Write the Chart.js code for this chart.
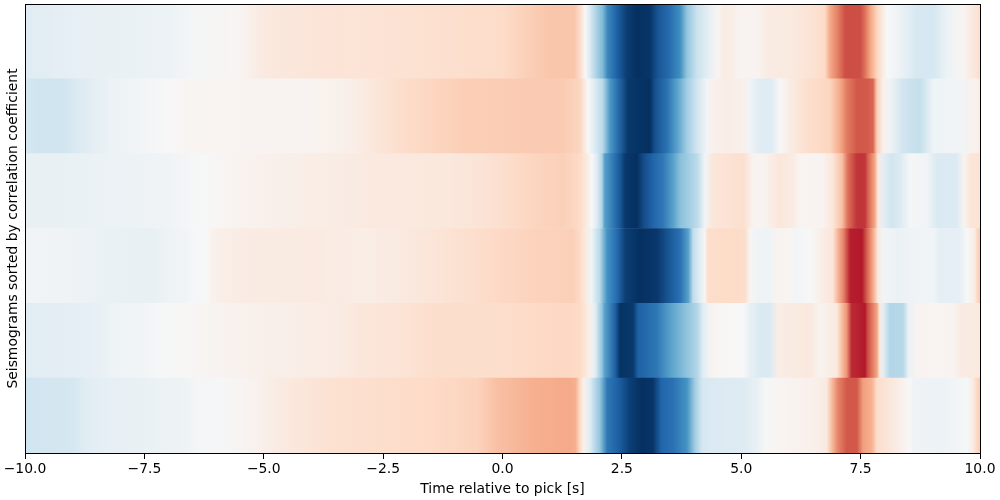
<!DOCTYPE html>
<html>
<head>
<meta charset="utf-8">
<style>html,body{margin:0;padding:0;background:#fff}canvas{display:block}</style>
<script src="https://cdn.jsdelivr.net/npm/chart.js@4"></script>
</head>
<body>
<canvas id="c" width="1000" height="500"></canvas>
<script>
const rowLabels = ["1","2","3","4","5","6"];
const xTicks = [-10,-7.5,-5,-2.5,0,2.5,5,7.5,10];
const xSpan = [-10,10];
const yTitle = "Seismograms sorted by correlation coefficient";
const xTitle = "Time relative to pick [s]";
// RdBu_r anchor colours from -1 to 1
const cmap = ["#053061","#2166ac","#4393c3","#92c5de","#d1e5f0","#f7f7f7","#fddbc7","#f4a582","#d6604d","#b2182b","#67001f"];

const row1T = [-10,-9,-8.5,-7,-6.5,-5.5,-5,-4,-2,-1,0,0.5,1,1.5,1.65,1.73,1.83,2.1,2.2,2.4,2.6,2.82,3.09,3.26,3.5,3.72,3.86,4.07,4.35,4.52,4.62,4.83,4.93,5.33,5.54,6.09,6.5,6.75,6.86,7.03,7.18,7.49,7.59,7.7,7.84,7.95,8.05,8.26,8.47,8.68,9.02,9.31,9.65,9.79,9.95,10];
const row1V = [-0.12,-0.09,-0.08,-0.06,-0.02,0.02,0.1,0.13,0.15,0.17,0.19,0.24,0.28,0.28,0.15,0,-0.15,-0.45,-0.65,-0.82,-0.95,-1,-0.98,-0.86,-0.77,-0.62,-0.4,-0.22,-0.08,0.02,0.08,0.07,0.03,0.03,0.08,0.1,0.15,0.2,0.38,0.52,0.65,0.65,0.55,0.4,0.22,0.1,0,-0.04,-0.1,-0.17,-0.18,-0.06,0.02,0.08,0.15,0.18];

const row2T = [-10,-9.8,-9.2,-8.9,-8.64,-8.2,-7.65,-7,-6.6,-4.03,-3.2,-2.63,-2.15,-1.46,-0.74,0.64,1.27,1.62,1.79,1.9,2.1,2.25,2.4,2.63,3.09,3.19,3.45,3.65,3.86,4.07,4.28,4.41,4.76,5.04,5.18,5.39,5.64,5.81,6.02,6.37,6.86,7.07,7.21,7.42,7.63,7.76,7.84,7.97,8.12,8.39,8.74,9.02,9.58,9.94,10];
const row2V = [-0.17,-0.2,-0.2,-0.15,-0.11,-0.06,-0.03,0,0.02,0.03,0.06,0.12,0.18,0.22,0.25,0.26,0.26,0.22,0,-0.1,-0.28,-0.58,-0.75,-0.97,-1,-0.88,-0.74,-0.55,-0.35,-0.2,-0.03,0.05,0.07,0.05,-0.05,-0.12,-0.12,0,0.08,0.17,0.22,0.38,0.52,0.62,0.62,0.58,0.25,0.05,-0.05,-0.2,-0.24,-0.05,-0.03,0.05,0.07];

const row3T = [-10,-9.7,-8,-7.1,-6.27,-5.77,-5.22,-4.03,-3.4,-2.84,-1.1,-0.41,0,0.64,1.27,1.62,1.87,1.97,2.08,2.14,2.32,2.46,2.57,2.81,2.98,3.19,3.36,3.57,3.72,4.07,4.24,4.41,5.04,5.25,5.46,5.81,6.09,6.23,6.71,6.92,7.11,7.23,7.42,7.59,7.65,7.8,7.86,7.97,8.15,8.32,8.53,8.88,9.09,9.5,9.67,9.79,10];
const row3V = [-0.08,-0.08,-0.06,-0.04,-0.005,0.02,0.04,0.07,0.08,0.1,0.11,0.14,0.17,0.22,0.24,0.2,0,-0.12,-0.3,-0.55,-0.72,-0.85,-0.97,-1,-0.88,-0.79,-0.72,-0.55,-0.42,-0.27,-0.03,0.12,0.17,0.03,0.03,0.12,0.08,0.02,0.03,0.13,0.3,0.55,0.72,0.72,0.6,0.38,0.1,-0.1,-0.2,-0.14,-0.02,-0.03,-0.15,-0.14,0.03,0.12,0.14];

const row4T = [-10,-9.27,-8.36,-7.3,-6.96,-6.6,-6.47,-6.2,-6.06,-5.56,-4.03,-2.84,-2.15,-1.46,-0.68,0.64,1.48,1.62,1.76,1.87,2.04,2.19,2.4,2.57,2.88,3.24,3.45,3.72,3.89,3.99,4.14,4.24,4.3,4.83,5.08,5.18,5.33,5.6,5.74,6.02,6.16,6.44,6.65,6.92,7,7.14,7.28,7.53,7.63,7.76,7.86,7.97,8.26,8.6,9.02,9.16,9.58,9.73,9.89,9.95,10];
const row4V = [-0.03,-0.04,-0.07,-0.08,-0.05,-0.03,-0.01,0,0.05,0.08,0.09,0.07,0.1,0.13,0.17,0.23,0.24,0.2,0.07,-0.05,-0.28,-0.6,-0.78,-0.95,-1,-0.97,-0.87,-0.75,-0.55,-0.25,-0.1,0.02,0.18,0.2,0.18,0.02,-0.04,-0.05,0.03,0.02,-0.03,0,0.06,0.13,0.3,0.5,0.78,0.8,0.6,0.38,0.1,-0.03,-0.07,-0.04,-0.03,-0.1,-0.09,0,0.08,0.22,0.25];

const row5T = [-10,-8.9,-8.42,-8.16,-7.53,-7.17,-6.6,-5.64,-4.03,-3.55,-2.84,-1.87,-1.46,-0.05,0.64,1.35,1.62,1.83,1.94,2.08,2.14,2.36,2.46,2.73,2.84,3.24,3.51,3.82,4.07,4.2,4.3,4.38,4.73,5.04,5.18,5.39,5.6,5.77,6.44,6.65,7,7.07,7.21,7.31,7.59,7.65,7.84,7.9,7.97,8.12,8.39,8.5,8.68,9.02,9.44,9.58,10];
const row5V = [-0.11,-0.1,-0.08,-0.05,-0.03,-0.01,0.01,0.04,0.07,0.08,0.12,0.15,0.18,0.18,0.2,0.21,0.2,0.05,-0.1,-0.4,-0.55,-0.82,-0.99,-0.97,-0.82,-0.72,-0.55,-0.42,-0.3,-0.12,-0.05,0.03,0.01,0,-0.08,-0.15,-0.15,0.07,0.11,0.03,0.1,0.25,0.45,0.75,0.8,0.65,0.4,0.1,-0.1,-0.3,-0.28,-0.07,0.03,0.02,0.03,0.08,0.1];

const row6T = [-10,-9,-8.7,-8.2,-6.6,-6.45,-5.9,-5.35,-4.5,-4.03,-3.55,-1.46,-0.53,-0.12,0.64,1.41,1.53,1.62,1.7,1.83,2.04,2.19,2.42,2.67,2.92,3.15,3.24,3.33,3.57,3.86,4.03,4.18,4.35,5.04,5.33,5.5,5.81,6.58,6.79,6.9,7.03,7.21,7.42,7.55,7.74,7.84,8.26,8.53,8.6,9.16,9.73,9.85,9.95,10];
const row6V = [-0.2,-0.18,-0.11,-0.09,-0.05,-0.02,-0.01,0.03,0.1,0.13,0.16,0.2,0.23,0.3,0.36,0.38,0.36,0.2,0.05,-0.12,-0.4,-0.72,-0.82,-0.95,-1,-0.98,-0.89,-0.8,-0.75,-0.6,-0.35,-0.18,-0.15,-0.13,-0.08,-0.01,0.02,0.06,0.1,0.32,0.5,0.62,0.62,0.42,0.35,0.18,0.08,0,-0.04,-0.06,-0.01,0.08,0.22,0.25];

const rowT = [row1T,row2T,row3T,row4T,row5T,row6T];
const rowV = [row1V,row2V,row3V,row4V,row5V,row6V];

function hex(h){return [1,3,5].map(i=>parseInt(h.substr(i,2),16));}
function colour(v){
  const p=(Math.max(-1,Math.min(1,v))+1)*5, i=Math.min(9,Math.floor(p)), f=p-i;
  const a=hex(cmap[i]), b=hex(cmap[i+1]);
  return "rgb("+a.map((c,k)=>Math.round(c+(b[k]-c)*f)).join(",")+")";
}
function rowFill(ctx){
  const chart=ctx.chart, x=chart.scales.x;
  if(!x||ctx.dataIndex===undefined) return "#f7f7f7";
  const x0=x.getPixelForValue(xSpan[0]), x1=x.getPixelForValue(xSpan[1]);
  if(!(x1>x0)) return "#f7f7f7";
  const g=chart.ctx.createLinearGradient(x0,0,x1,0);
  const T=rowT[ctx.dataIndex], V=rowV[ctx.dataIndex];
  T.forEach((t,i)=>g.addColorStop((t-xSpan[0])/(xSpan[1]-xSpan[0]),colour(V[i])));
  return g;
}
const frame={id:"frame",afterDraw(c){
  const a=c.chartArea,k=c.ctx;k.save();k.strokeStyle="#000";k.lineWidth=1;
  k.strokeRect(a.left+0.5,a.top+0.5,a.right-a.left,a.bottom-a.top);k.restore();
}};
const font={family:"'DejaVu Sans'",size:13.9};
new Chart(document.getElementById("c"),{
  type:"bar",
  plugins:[frame],
  data:{labels:rowLabels,datasets:[{
    data:rowLabels.map(()=>xSpan.slice()),
    backgroundColor:rowFill,barPercentage:1,categoryPercentage:1,borderWidth:0
  }]},
  options:{
    indexAxis:"y",responsive:false,animation:false,devicePixelRatio:1,
    layout:{padding:{left:0,right:20,top:4,bottom:0}},
    plugins:{legend:{display:false},tooltip:{enabled:false},title:{display:false}},
    scales:{
      x:{type:"linear",min:xSpan[0],max:xSpan[1],
        afterBuildTicks(s){s.ticks=xTicks.map(v=>({value:v}));},
        afterFit(s){s.height=47;},
        grid:{drawOnChartArea:false,drawTicks:true,tickLength:6,tickWidth:1,tickColor:"#000"},
        border:{display:false},
        ticks:{autoSkip:false,maxRotation:0,padding:2,color:"#000",font,
          callback:v=>Number(v).toFixed(1).replace("-","\u2212")},
        title:{display:true,text:xTitle,color:"#000",font,padding:{top:3,bottom:2}}
      },
      y:{type:"category",
        afterFit(s){s.width=25;},
        grid:{display:false},border:{display:false},
        ticks:{display:false},
        title:{display:true,text:yTitle,color:"#000",font,padding:{top:5,bottom:0}}
      }
    }
  }
});
</script>
</body>
</html>
